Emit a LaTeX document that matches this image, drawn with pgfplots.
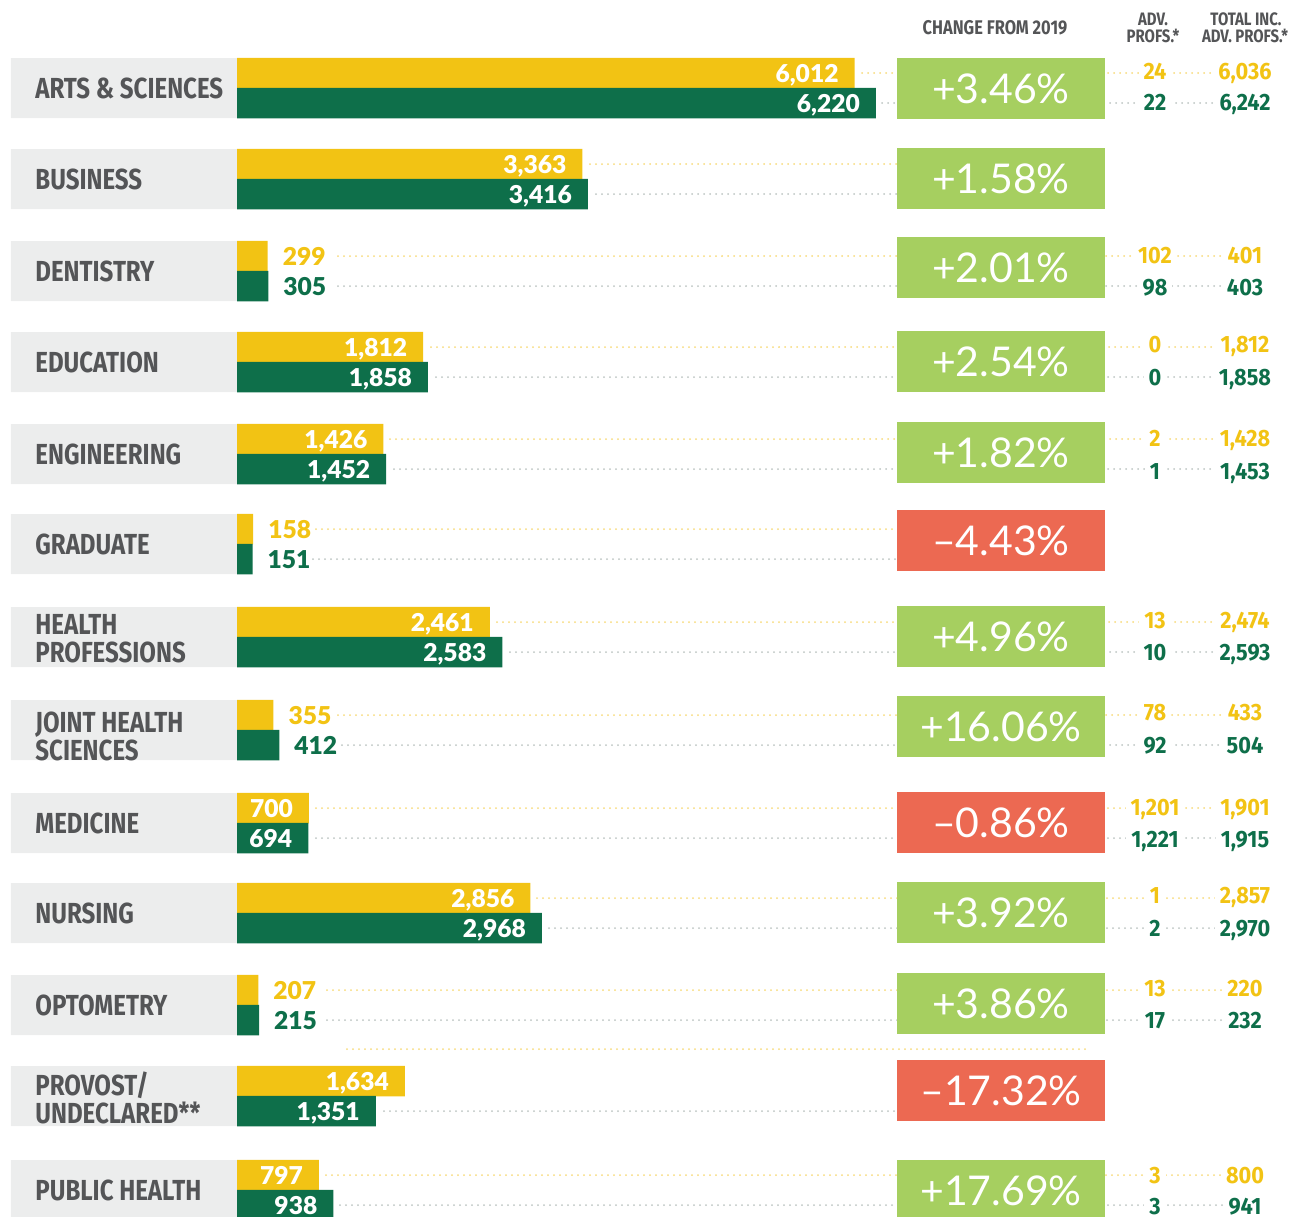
\documentclass[border=0pt]{standalone}
\usepackage{pgfplots}
\pgfplotsset{compat=1.18}
\usepackage{fontspec}
\setmainfont{Lato}
\newfontfamily\pctf{Lato}
\newfontfamily\heavyf{Lato Black}
\newfontfamily\condf{Fira Sans}[FakeStretch=0.83]
\newfontfamily\advf{Fira Sans}[FakeStretch=0.92]

\definecolor{ygold}{HTML}{F2C314}
\definecolor{dgreen}{HTML}{0E6F4A}
\definecolor{lgray}{HTML}{ECEDED}
\definecolor{tgray}{HTML}{545557}
\definecolor{pgreen}{HTML}{A6CF60}
\definecolor{pred}{HTML}{EC6952}
\definecolor{ydotc}{HTML}{F7DA7A}
\definecolor{gdotc}{HTML}{BCC5C2}

\newcommand\labfont{\condf\bfseries\fontsize{14.5}{16}\selectfont}
\newcommand\valfont{\heavyf\fontsize{12.3}{14}\selectfont}
\newcommand\pctfont{\pctf\fontsize{20.5}{24}\selectfont}
\newcommand\advfont{\advf\bfseries\fontsize{11.8}{13}\selectfont}
\newcommand\hdrfont{\condf\bfseries\fontsize{9}{10}\selectfont}

% 1 axis unit (pixel of the reference) = 0.5pt
\pgfplotsset{
  frame/.style={at={(0,0)}, anchor=south west, width=648pt, height=608pt,
    scale only axis, ymin=0, ymax=1216, y dir=reverse, hide axis},
  barval/.style={nodes near coords={\pgfmathprintnumber[assume math mode=true,fixed,precision=0,1000 sep={,}]{\pgfplotspointmeta}},
    point meta=x},
  inlab/.style={barval, every node near coord/.append style={anchor=base east, xshift=-4.5pt, yshift=-4.5pt, text=white, font=\valfont}},
  outlab/.style={barval, every node near coord/.append style={anchor=base west, xshift=4pt, yshift=-4.5pt, font=\valfont}},
  ydot/.style={color=ydotc, line width=1pt, dash pattern=on 0pt off 3pt, line cap=round},
  gdot/.style={color=gdotc, line width=1pt, dash pattern=on 0pt off 3pt, line cap=round},
}
\tikzset{
  pbox/.style={minimum width=104pt, minimum height=30.5pt, inner sep=0pt, text=white, font=\pctfont},
  adv/.style={anchor=base, fill=white, inner xsep=2.5pt, inner ysep=1pt, font=\advfont},
  lab/.style={anchor=base west, font=\labfont, text=tgray, inner sep=0pt},
}

\begin{document}
\begin{tikzpicture}
% bars: x in students, bars start at pixel 237
\begin{axis}[frame, xmin=-2307, xmax=10308.6]
  % grey label panels
  \addplot[xbar, bar shift=0pt, bar width=30pt, fill=lgray, draw=none] coordinates {
    (-2200,88) (-2200,179) (-2200,271) (-2200,362) (-2200,454) (-2200,544) (-2200,637)
    (-2200,730) (-2200,823) (-2200,913) (-2200,1005) (-2200,1096) (-2200,1190)};
  % 2019
  \addplot[xbar, bar shift=0pt, bar width=15.25pt, fill=ygold, draw=none, inlab] coordinates {
    (6012,73) (3363,164) (1812,347) (1426,439) (2461,622) (700,808) (2856,898) (1634,1081) (797,1175)};
  \addplot[xbar, bar shift=0pt, bar width=15.25pt, fill=ygold, draw=none, outlab,
    every node near coord/.append style={text=ygold}] coordinates {
    (299,256) (158,529) (355,715) (207,990)};
  % 2020
  \addplot[xbar, bar shift=0pt, bar width=15.25pt, fill=dgreen, draw=none, inlab] coordinates {
    (6220,103) (3416,194) (1858,377) (1452,469) (2583,652) (694,838) (2968,928) (1351,1111) (938,1205)};
  \addplot[xbar, bar shift=0pt, bar width=15.25pt, fill=dgreen, draw=none, outlab,
    every node near coord/.append style={text=dgreen}] coordinates {
    (305,286) (151,559) (412,745) (215,1020)};
\end{axis}

% leaders, change boxes and text: x in pixels
\begin{axis}[frame, xmin=0, xmax=1296]
  \addplot[ydot] coordinates {(862,73) (1245,73)};
  \addplot[gdot] coordinates {(882,103) (1245,103)};
  \addplot[ydot] coordinates {(590,164) (897,164)};
  \addplot[gdot] coordinates {(596,194) (897,194)};
  \addplot[ydot] coordinates {(338,256) (1245,256)};
  \addplot[gdot] coordinates {(338,286) (1245,286)};
  \addplot[ydot] coordinates {(431,347) (1245,347)};
  \addplot[gdot] coordinates {(436,377) (1245,377)};
  \addplot[ydot] coordinates {(390,439) (1245,439)};
  \addplot[gdot] coordinates {(394,469) (1245,469)};
  \addplot[ydot] coordinates {(316,529) (897,529)};
  \addplot[gdot] coordinates {(313,559) (897,559)};
  \addplot[ydot] coordinates {(497,622) (1245,622)};
  \addplot[gdot] coordinates {(510,652) (1245,652)};
  \addplot[ydot] coordinates {(338,715) (1245,715)};
  \addplot[gdot] coordinates {(342,745) (1245,745)};
  \addplot[ydot] coordinates {(316,808) (1245,808)};
  \addplot[gdot] coordinates {(316,838) (1245,838)};
  \addplot[ydot] coordinates {(537,898) (1245,898)};
  \addplot[gdot] coordinates {(549,928) (1245,928)};
  \addplot[ydot] coordinates {(327,990) (1245,990)};
  \addplot[gdot] coordinates {(327,1020) (1245,1020)};
  \addplot[ydot] coordinates {(347,1049) (1090,1049)};
  \addplot[gdot] coordinates {(384,1111) (897,1111)};
  \addplot[ydot] coordinates {(326,1175) (1245,1175)};
  \addplot[gdot] coordinates {(340,1205) (1245,1205)};

  % headers
  \node[font=\hdrfont, text=tgray, scale=1.1] at (axis cs:995,28) {CHANGE FROM 2019};
  \node[font=\hdrfont, text=tgray] at (axis cs:1153,19) {ADV.};
  \node[font=\hdrfont, text=tgray] at (axis cs:1153,36) {PROFS.*};
  \node[font=\hdrfont, text=tgray] at (axis cs:1246,19) {TOTAL INC.};
  \node[font=\hdrfont, text=tgray] at (axis cs:1245,36) {ADV. PROFS.*};

  % school names
  \node[lab] at (axis cs:35,98) {ARTS \& SCIENCES};
  \node[lab] at (axis cs:35,189) {BUSINESS};
  \node[lab] at (axis cs:35,281) {DENTISTRY};
  \node[lab] at (axis cs:35,372) {EDUCATION};
  \node[lab] at (axis cs:35,464) {ENGINEERING};
  \node[lab] at (axis cs:35,554) {GRADUATE};
  \node[lab] at (axis cs:35,634) {HEALTH};
  \node[lab] at (axis cs:35,662) {PROFESSIONS};
  \node[lab] at (axis cs:35,732) {JOINT HEALTH};
  \node[lab] at (axis cs:35,760) {SCIENCES};
  \node[lab] at (axis cs:35,833) {MEDICINE};
  \node[lab] at (axis cs:35,923) {NURSING};
  \node[lab] at (axis cs:35,1015) {OPTOMETRY};
  \node[lab] at (axis cs:35,1095) {PROVOST/};
  \node[lab] at (axis cs:35,1123) {UNDECLARED**};
  \node[lab] at (axis cs:35,1200) {PUBLIC HEALTH};

  % change from 2019
  \node[pbox, fill=pgreen] at (axis cs:1001,88.5) {+3.46\%};
  \node[pbox, fill=pgreen] at (axis cs:1001,178.5) {+1.58\%};
  \node[pbox, fill=pgreen] at (axis cs:1001,267.5) {+2.01\%};
  \node[pbox, fill=pgreen] at (axis cs:1001,361.5) {+2.54\%};
  \node[pbox, fill=pgreen] at (axis cs:1001,452.5) {+1.82\%};
  \node[pbox, fill=pred] at (axis cs:1001,540.5) {\textendash4.43\%};
  \node[pbox, fill=pgreen] at (axis cs:1001,636.5) {+4.96\%};
  \node[pbox, fill=pgreen] at (axis cs:1001,726.5) {+16.06\%};
  \node[pbox, fill=pred] at (axis cs:1001,822.5) {\textendash0.86\%};
  \node[pbox, fill=pgreen] at (axis cs:1001,912.5) {+3.92\%};
  \node[pbox, fill=pgreen] at (axis cs:1001,1003.5) {+3.86\%};
  \node[pbox, fill=pred] at (axis cs:1001,1090.5) {\textendash17.32\%};
  \node[pbox, fill=pgreen] at (axis cs:1001,1190.5) {+17.69\%};

  % adv. profs. and totals
  \node[adv, text=ygold] at (axis cs:1155,79) {24};
  \node[adv, text=dgreen] at (axis cs:1155,110) {22};
  \node[adv, text=ygold] at (axis cs:1245,79) {6,036};
  \node[adv, text=dgreen] at (axis cs:1245,110) {6,242};
  \node[adv, text=ygold] at (axis cs:1155,263) {102};
  \node[adv, text=dgreen] at (axis cs:1155,295) {98};
  \node[adv, text=ygold] at (axis cs:1245,263) {401};
  \node[adv, text=dgreen] at (axis cs:1245,295) {403};
  \node[adv, text=ygold] at (axis cs:1155,352) {0};
  \node[adv, text=dgreen] at (axis cs:1155,385) {0};
  \node[adv, text=ygold] at (axis cs:1245,352) {1,812};
  \node[adv, text=dgreen] at (axis cs:1245,385) {1,858};
  \node[adv, text=ygold] at (axis cs:1155,446) {2};
  \node[adv, text=dgreen] at (axis cs:1155,479) {1};
  \node[adv, text=ygold] at (axis cs:1245,446) {1,428};
  \node[adv, text=dgreen] at (axis cs:1245,479) {1,453};
  \node[adv, text=ygold] at (axis cs:1155,628) {13};
  \node[adv, text=dgreen] at (axis cs:1155,660) {10};
  \node[adv, text=ygold] at (axis cs:1245,628) {2,474};
  \node[adv, text=dgreen] at (axis cs:1245,660) {2,593};
  \node[adv, text=ygold] at (axis cs:1155,720) {78};
  \node[adv, text=dgreen] at (axis cs:1155,753) {92};
  \node[adv, text=ygold] at (axis cs:1245,720) {433};
  \node[adv, text=dgreen] at (axis cs:1245,753) {504};
  \node[adv, text=ygold] at (axis cs:1155,815) {1,201};
  \node[adv, text=dgreen] at (axis cs:1155,847) {1,221};
  \node[adv, text=ygold] at (axis cs:1245,815) {1,901};
  \node[adv, text=dgreen] at (axis cs:1245,847) {1,915};
  \node[adv, text=ygold] at (axis cs:1155,903) {1};
  \node[adv, text=dgreen] at (axis cs:1155,936) {2};
  \node[adv, text=ygold] at (axis cs:1245,903) {2,857};
  \node[adv, text=dgreen] at (axis cs:1245,936) {2,970};
  \node[adv, text=ygold] at (axis cs:1155,996) {13};
  \node[adv, text=dgreen] at (axis cs:1155,1028) {17};
  \node[adv, text=ygold] at (axis cs:1245,996) {220};
  \node[adv, text=dgreen] at (axis cs:1245,1028) {232};
  \node[adv, text=ygold] at (axis cs:1155,1183) {3};
  \node[adv, text=dgreen] at (axis cs:1155,1214) {3};
  \node[adv, text=ygold] at (axis cs:1245,1183) {800};
  \node[adv, text=dgreen] at (axis cs:1245,1214) {941};
\end{axis}
\pgfresetboundingbox
\path[use as bounding box] (0,0) rectangle (648pt,608pt);
\end{tikzpicture}
\end{document}
